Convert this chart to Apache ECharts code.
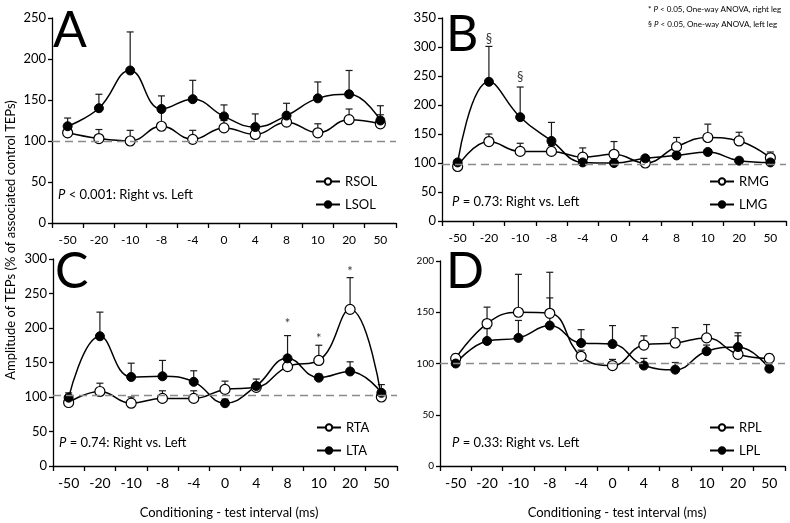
<!DOCTYPE html>
<html>
<head>
<meta charset="utf-8">
<script src="https://cdn.jsdelivr.net/npm/echarts@6/dist/echarts.min.js"></script>
<style>
  html, body { margin: 0; padding: 0; background: #fff; }
  #chart-container { width: 790px; height: 523px; }
</style>
</head>
<body>
<div id="chart-container"></div>
<script>
// conditioning - test intervals (ms)
const categories = ['-50', '-20', '-10', '-8', '-4', '0', '4', '8', '10', '20', '50'];

// A: soleus
const rsol = [110, 103, 100, 118, 102, 116, 108, 123, 110, 126, 121];
const rsolTop = [114, 114, 113, 136, 113, 125, 113, 127, 121, 139, 132];
const lsol = [118, 140, 186, 139, 151, 130, 117, 131, 152, 157, 125];
const lsolTop = [128, 157, 233, 155, 174, 144, 133, 146, 172, 186, 143];

// B: medial gastrocnemius
const rmg = [94, 137, 120, 120, 110, 115, 100, 128, 144, 138, 109];
const rmgTop = [98, 150, 134, 130, 126, 137, 104, 144, 167, 153, 119];
const lmg = [101, 240, 179, 138, 101, 100, 108, 113, 119, 104, 101];
const lmgTop = [104, 301, 231, 170, 104, 103, 112, 117, 123, 108, 104];

// C: tibialis anterior
const rta = [92, 108, 91, 98, 98, 111, 114, 144, 153, 227, 100];
const rtaTop = [96, 120, 100, 109, 109, 123, 120, 150, 175, 273, 104];
const lta = [99, 188, 129, 130, 122, 91, 116, 156, 128, 137, 106];
const ltaTop = [106, 223, 149, 153, 138, 97, 126, 189, 133, 151, 118];

// D: peroneus longus
const rpl = [105, 139, 150, 149, 107, 98, 118, 120, 125, 109, 105];
const rplTop = [109, 155, 187, 189, 113, 104, 127, 135, 138, 130, 109];
const lpl = [100, 122, 125, 137, 120, 119, 98, 94, 112, 116, 95];
const lplTop = [102, 134, 142, 164, 133, 137, 105, 101, 118, 127, 97];

// significance marks (interval, height of the mark)
const sigB = [['-20', 314], ['-10', 249]];
const sigC = [['8', 206], ['10', 184], ['20', 282]];

const yMax = [250, 350, 300, 200];
const refLine = [100, 98, 102, 100];
const pTexts = ['{i|P}{n| < 0.001: Right vs. Left}', '{i|P}{n| = 0.73: Right vs. Left}',
  '{i|P}{n| = 0.74: Right vs. Left}', '{i|P}{n| = 0.33: Right vs. Left}'];
const panelLetters = ['A', 'B', 'C', 'D'];
const notes = ['{n|* }{i|P}{n| < 0.05, One-way ANOVA, right leg}', '{n|§ }{i|P}{n| < 0.05, One-way ANOVA, left leg}'];

const FONT = 'Lato, "Open Sans", sans-serif';

let grids = [
  { left: 52, top: 18, width: 344, height: 205 },
  { left: 442, top: 18, width: 344, height: 203 },
  { left: 53, top: 259, width: 344, height: 207 },
  { left: 440, top: 261, width: 345, height: 205 }
];

function errorSeries(idx, means, tops, withRef) {
  let s = {
    type: 'custom',
    xAxisIndex: idx,
    yAxisIndex: idx,
    z: 1,
    silent: true,
    encode: { x: 0, y: [1, 2] },
    data: means.map((m, i) => [i, m, tops[i]]),
    renderItem: (params, api) => {
      let base = api.coord([api.value(0), api.value(1)]);
      let top = api.coord([api.value(0), api.value(2)]);
      let style = { stroke: '#1a1a1a', lineWidth: 1.2 };
      return {
        type: 'group',
        children: [
          { type: 'line', shape: { x1: base[0], y1: base[1], x2: top[0], y2: top[1] }, style },
          { type: 'line', shape: { x1: top[0] - 3.5, y1: top[1], x2: top[0] + 3.5, y2: top[1] }, style }
        ]
      };
    }
  };
  if (withRef) {
    s.markLine = {
      silent: true,
      symbol: 'none',
      label: { show: false },
      lineStyle: { color: '#8a8a8a', type: [8, 5], width: 1.3 },
      data: [{ yAxis: refLine[idx] }]
    };
  }
  return s;
}

function lineSeries(idx, name, data, open) {
  return {
    name,
    type: 'line',
    xAxisIndex: idx,
    yAxisIndex: idx,
    z: 3,
    smooth: 0.45,
    symbol: 'circle',
    symbolSize: open ? 10 : 9,
    lineStyle: { color: '#000', width: 1.5 },
    itemStyle: open
      ? { color: '#fff', borderColor: '#000', borderWidth: 1.2 }
      : { color: '#000', borderColor: '#000', borderWidth: 1 },
    data
  };
}

function sigSeries(idx, marks, glyph) {
  return {
    type: 'scatter',
    xAxisIndex: idx,
    yAxisIndex: idx,
    symbolSize: 0,
    silent: true,
    label: {
      show: true,
      position: 'inside',
      formatter: glyph,
      color: '#000',
      fontSize: 13,
      fontFamily: FONT
    },
    data: marks.map(m => [categories.indexOf(m[0]), m[1]])
  };
}

let panels = [
  ['RSOL', rsol, rsolTop, 'LSOL', lsol, lsolTop],
  ['RMG', rmg, rmgTop, 'LMG', lmg, lmgTop],
  ['RTA', rta, rtaTop, 'LTA', lta, ltaTop],
  ['RPL', rpl, rplTop, 'LPL', lpl, lplTop]
];

let series = [];
panels.forEach((p, idx) => {
  series.push(errorSeries(idx, p[1], p[2], true));
  series.push(errorSeries(idx, p[4], p[5], false));
  series.push(lineSeries(idx, p[0], p[1], true));
  series.push(lineSeries(idx, p[3], p[4], false));
});
series.push(sigSeries(1, sigB, '§'));
series.push(sigSeries(2, sigC, '*'));

let xAxis = grids.map((g, idx) => ({
  type: 'category',
  gridIndex: idx,
  data: categories,
  boundaryGap: true,
  axisLine: { lineStyle: { color: '#000', width: 1.3 } },
  axisTick: { show: true, inside: false, length: 5, alignWithLabel: false, lineStyle: { color: '#000', width: 1.3 } },
  axisLabel: { color: '#000', fontSize: idx < 2 ? 12 : 14, margin: idx < 2 ? 11 : 10, fontFamily: FONT, interval: 0 },
  splitLine: { show: false }
}));

let yAxis = grids.map((g, idx) => ({
  type: 'value',
  gridIndex: idx,
  min: 0,
  max: yMax[idx],
  interval: 50,
  axisLine: { show: true, lineStyle: { color: '#000', width: 1.3 } },
  axisTick: { show: true, inside: false, length: 4, lineStyle: { color: '#000', width: 1.3 } },
  axisLabel: { color: '#000', fontSize: idx === 3 ? 10 : 13, margin: 6, fontFamily: FONT },
  splitLine: { show: false }
}));

let legendPos = [[315, 175], [709, 175], [316, 421], [709, 421]];
let legend = panels.map((p, idx) => ({
  data: [p[0], p[3]],
  orient: 'vertical',
  left: legendPos[idx][0],
  top: legendPos[idx][1],
  padding: 0,
  itemWidth: 24,
  itemHeight: 8,
  itemGap: 10,
  selectedMode: false,
  textStyle: { color: '#000', fontSize: 13, fontFamily: FONT }
}));

let pPos = [[58, 195], [452, 202], [59, 443], [452, 443]];
let letterPos = [[53, 31], [446, 35], [55, 272], [446, 272]];
let graphic = [];
panels.forEach((p, idx) => {
  graphic.push({
    type: 'text',
    x: pPos[idx][0],
    y: pPos[idx][1],
    style: {
      text: pTexts[idx],
      fill: '#000',
      fontSize: 13,
      fontFamily: FONT,
      verticalAlign: 'middle',
      rich: {
        i: { fontStyle: 'italic', fontSize: 13, fontFamily: FONT },
        n: { fontSize: 13, fontFamily: FONT }
      }
    }
  });
  graphic.push({
    type: 'text',
    x: letterPos[idx][0],
    y: letterPos[idx][1],
    style: {
      text: panelLetters[idx],
      fill: '#000',
      fontSize: 50,
      fontFamily: FONT,
      verticalAlign: 'middle'
    }
  });
});
graphic.push({
  type: 'text',
  x: 11,
  y: 240,
  rotation: Math.PI / 2,
  style: {
    text: 'Amplitude of TEPs (% of associated control TEPs)',
    fill: '#000',
    fontSize: 13,
    fontFamily: FONT,
    align: 'center',
    verticalAlign: 'middle'
  }
});
[229, 617].forEach(cx => {
  graphic.push({
    type: 'text',
    x: cx,
    y: 513,
    style: {
      text: 'Conditioning - test interval (ms)',
      fill: '#000',
      fontSize: 13,
      fontFamily: FONT,
      align: 'center',
      verticalAlign: 'middle'
    }
  });
});
notes.forEach((t, k) => {
  graphic.push({
    type: 'text',
    x: 648,
    y: 9 + k * 15,
    style: {
      text: t,
      fill: '#000',
      fontSize: 8,
      fontFamily: FONT,
      verticalAlign: 'middle',
      rich: {
        i: { fontStyle: 'italic', fontSize: 8, fontFamily: FONT },
        n: { fontSize: 8, fontFamily: FONT }
      }
    }
  });
});

let option = {
  animation: false,
  backgroundColor: '#fff',
  grid: grids,
  xAxis,
  yAxis,
  legend,
  graphic,
  series
};

var myChart = echarts.init(document.getElementById('chart-container'));
myChart.setOption(option);
</script>
</body>
</html>
